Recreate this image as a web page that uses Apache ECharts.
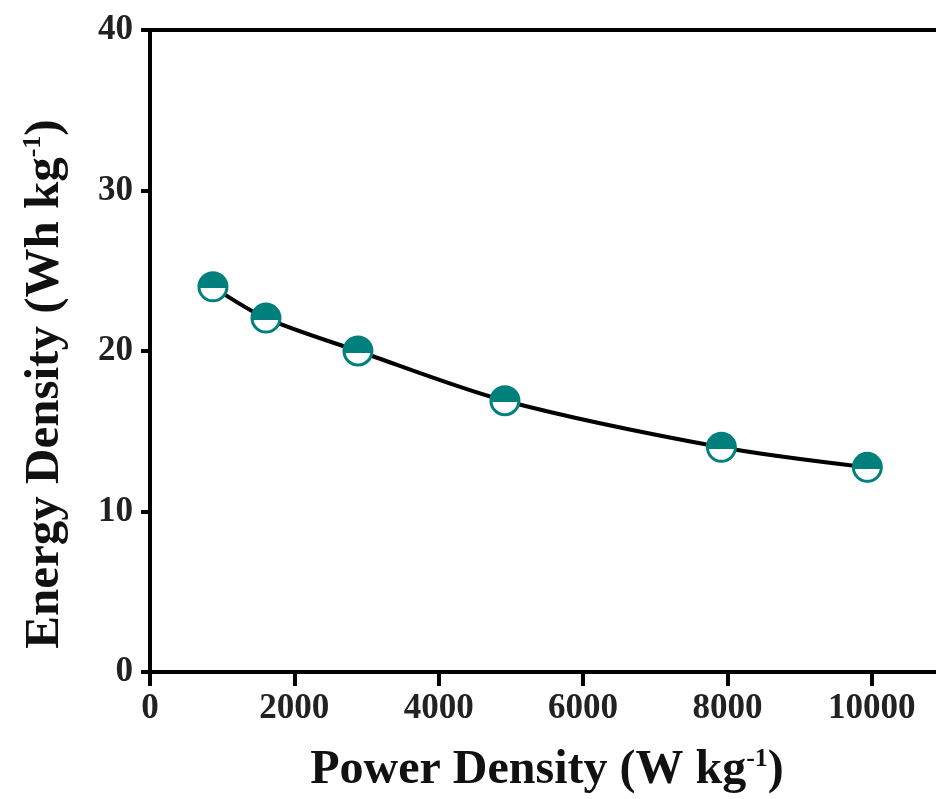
<!DOCTYPE html>
<html><head><meta charset="utf-8">
<script src="https://cdn.jsdelivr.net/npm/echarts@6/dist/echarts.min.js"></script>
<style>html,body{margin:0;padding:0;background:#fff}#c{width:936px;height:799px}</style>
</head><body><div id="c"></div>
<script>
const powerDensity = [872, 1607, 2881, 4917, 7916, 9938];
const energyDensity = [24.0, 22.05, 20.0, 16.9, 14.0, 12.75];
const xTicks = [0, 2000, 4000, 6000, 8000, 10000];
const yTicks = [0, 10, 20, 30, 40];

const teal = '#00807d';
const font = 'Liberation Serif';
const chart = echarts.init(document.getElementById('c'));
chart.setOption({
  animation: false,
  grid: { left: 150, top: 30, bottom: 127, right: -8, containLabel: false, outerBoundsMode: 'none' },
  xAxis: [{
    type: 'value', min: 0, max: 11000, interval: 2000,
    axisLine: { lineStyle: { color: '#000', width: 4 } },
    axisTick: { show: true, inside: false, length: 14, lineStyle: { width: 4, color: '#000' } },
    axisLabel: { margin: 19, color: '#222', fontFamily: font, fontWeight: 'bold', fontSize: 35,
      formatter: v => xTicks.includes(v) ? String(v) : '' },
    splitLine: { show: false },
    name: '{t|Power Density (W kg}{s|-1}{t|)}',
    nameLocation: 'middle', nameGap: 74,
    nameTextStyle: { rich: {
      t: { fontFamily: font, fontWeight: 'bold', fontSize: 48, color: '#111' },
      s: { fontFamily: font, fontWeight: 'bold', fontSize: 26, color: '#111', padding: [0, 0, 24, 0] }
    } }
  }, {
    type: 'value', position: 'top', min: 0, max: 11000,
    axisLine: { lineStyle: { color: '#000', width: 4 } },
    axisTick: { show: false }, axisLabel: { show: false }, splitLine: { show: false }
  }],
  yAxis: {
    type: 'value', min: 0, max: 40, interval: 10,
    axisLine: { show: true, lineStyle: { color: '#000', width: 4 } },
    axisTick: { show: true, inside: false, length: 9, lineStyle: { width: 4, color: '#000' } },
    axisLabel: { margin: 17, color: '#222', fontFamily: font, fontWeight: 'bold', fontSize: 35,
      formatter: v => yTicks.includes(v) ? String(v) : '' },
    splitLine: { show: false },
    name: '{t|Energy Density (Wh kg}{s|-1}{t|)}',
    nameLocation: 'middle', nameGap: 80,
    nameTextStyle: { padding: [0, 66, 0, 0], rich: {
      t: { fontFamily: font, fontWeight: 'bold', fontSize: 49, color: '#111' },
      s: { fontFamily: font, fontWeight: 'bold', fontSize: 26, color: '#111', padding: [0, 0, 24, 0] }
    } }
  },
  series: [{
    type: 'line',
    data: powerDensity.map((x, i) => [x, energyDensity[i]]),
    smooth: 0.3,
    symbol: 'circle', symbolSize: 28,
    lineStyle: { color: '#000', width: 4 },
    itemStyle: {
      color: { type: 'linear', x: 0, y: 0, x2: 0, y2: 1, colorStops: [
        { offset: 0, color: teal }, { offset: 0.55, color: teal },
        { offset: 0.55, color: '#fff' }, { offset: 1, color: '#fff' } ] },
      borderColor: teal, borderWidth: 3
    },
    z: 3
  }]
});
</script></body></html>
